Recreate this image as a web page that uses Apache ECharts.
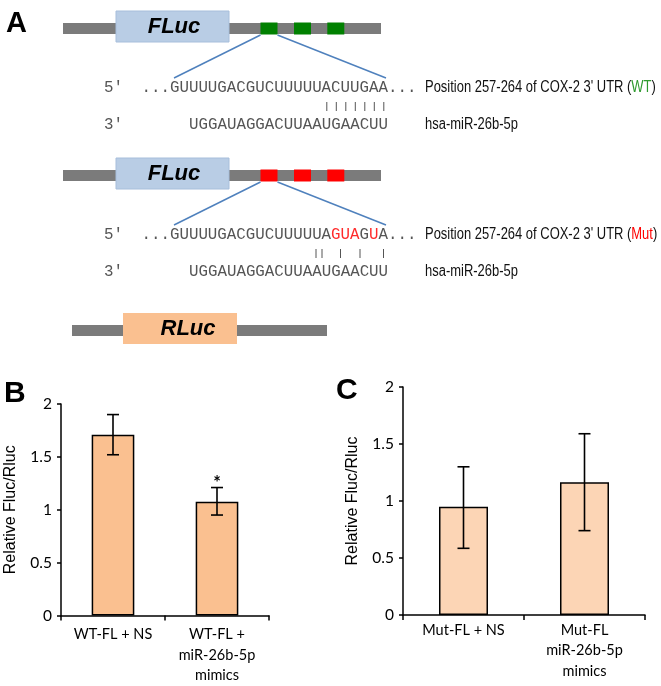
<!DOCTYPE html>
<html><head><meta charset="utf-8">
<script src="https://cdn.jsdelivr.net/npm/echarts@6/dist/echarts.min.js"></script>
<style>html,body{margin:0;padding:0;background:#fff}#c{width:661px;height:686px}</style>
</head><body><div id="c"></div>
<script>
// ---- data ----
const categoriesB = ['WT-FL + NS', 'WT-FL +\nmiR-26b-5p\nmimics'];
const valuesB = [1.71, 1.075];
const errLowB = [1.52, 0.95];
const errHighB = [1.90, 1.21];
const signifB = ['', '*'];
const categoriesC = ['Mut-FL + NS', 'Mut-FL\nmiR-26b-5p\nmimics'];
const valuesC = [0.95, 1.165];
const errLowC = [0.585, 0.74];
const errHighC = [1.30, 1.59];
const signifC = ['', ''];
const yMin = 0, yMax = 2, yStep = 0.5;
const yTitle = 'Relative Fluc/Rluc';

// ---- diagram text ----
const wtSeq5 = '...GUUUUGACGUCUUUUUACUUGAA...';
const mutSeq5Rich = '...GUUUUGACGUCUUUUUA{r|GUA}G{r|U}A...';
const mirSeq3 = 'UGGAUAGGACUUAAUGAACUU';
const wtLabel = 'Position 257-264 of COX-2 3\' UTR ({g|WT})';
const mutLabel = 'Position 257-264 of COX-2 3\' UTR ({r|Mut})';
const mirLabel = 'hsa-miR-26b-5p';

const chart = echarts.init(document.getElementById('c'), null, {renderer: 'canvas'});

const MONO = '"Liberation Mono", monospace';
const SANS = '"Liberation Sans", Arial, sans-serif';
const CAL = 'Lato, "Open Sans", sans-serif';
const seqColor = '#555555';
const grayBar = '#7b7b7b';
const blueLine = '#4f81bd';

function construct(dy, squareColor, seq5, label) {
  const els = [];
  els.push({type:'rect', shape:{x:63, y:23+dy, width:318, height:11}, style:{fill:grayBar}});
  els.push({type:'rect', shape:{x:116, y:11+dy, width:113, height:31}, style:{fill:'#b9cde5', stroke:'#a7bedb', lineWidth:1}});
  els.push({type:'text', x:174, y:27+dy, style:{text:'FLuc', font:'italic bold 22px ' + SANS, fill:'#000', textAlign:'center', textVerticalAlign:'middle'}});
  [260.5, 294, 327.3].forEach(x => {
    els.push({type:'rect', shape:{x:x, y:22.5+dy, width:17, height:12}, style:{fill:squareColor}});
  });
  els.push({type:'line', shape:{x1:260.5, y1:35+dy, x2:174, y2:78+dy}, style:{stroke:blueLine, lineWidth:1.5}});
  els.push({type:'line', shape:{x1:277.5, y1:35+dy, x2:386, y2:78+dy}, style:{stroke:blueLine, lineWidth:1.5}});
  // sequences
  els.push({type:'text', x:104, y:88+dy, style:{text:"5'", font:'15.8px ' + MONO, fill:seqColor, textVerticalAlign:'middle'}});
  els.push({type:'text', x:141.5, y:88+dy, style:{text:seq5, font:'15.8px ' + MONO, fill:seqColor, textVerticalAlign:'middle',
    rich:{r:{fill:'#ff2a2a', font:'15.8px ' + MONO}}}});
  els.push({type:'text', x:104, y:125+dy, style:{text:"3'", font:'15.8px ' + MONO, fill:seqColor, textVerticalAlign:'middle'}});
  els.push({type:'text', x:189, y:125+dy, style:{text:mirSeq3, font:'15.8px ' + MONO, fill:seqColor, textVerticalAlign:'middle'}});
  els.push({type:'text', x:425, y:88+dy, scaleX:0.81, style:{text:label, font:'16px ' + SANS, fill:'#111', textVerticalAlign:'middle',
    rich:{g:{fill:'#2e9a2e', font:'16px ' + SANS}, r:{fill:'#ff0000', font:'16px ' + SANS}}}});
  els.push({type:'text', x:425, y:125+dy, scaleX:0.81, style:{text:mirLabel, font:'16px ' + SANS, fill:'#111', textVerticalAlign:'middle'}});
  return els;
}

const graphics = [];
graphics.push({type:'text', x:6, y:24, style:{text:'A', font:'bold 29px ' + SANS, fill:'#000', textVerticalAlign:'middle'}});
graphics.push(...construct(0, '#008000', wtSeq5, wtLabel));
graphics.push(...construct(147, '#ff0000', mutSeq5Rich, mutLabel));
// base-pairing ticks
[326.8, 336.3, 345.8, 355.3, 364.8, 374.3, 383.8].forEach(x => {
  graphics.push({type:'line', shape:{x1:x, y1:102, x2:x, y2:111}, style:{stroke:seqColor, lineWidth:1}});
});
[316, 322, 340.5, 360, 383.5].forEach(x => {
  graphics.push({type:'line', shape:{x1:x, y1:249, x2:x, y2:258}, style:{stroke:seqColor, lineWidth:1}});
});
// RLuc construct
graphics.push({type:'rect', shape:{x:72, y:325, width:255, height:11}, style:{fill:grayBar}});
graphics.push({type:'rect', shape:{x:123, y:313, width:114, height:31}, style:{fill:'#fac090'}});
graphics.push({type:'text', x:188, y:328.5, style:{text:'RLuc', font:'italic bold 22px ' + SANS, fill:'#000', textAlign:'center', textVerticalAlign:'middle'}});
// panel letters
graphics.push({type:'text', x:4, y:394, style:{text:'B', font:'bold 30px ' + SANS, fill:'#000', textVerticalAlign:'middle'}});
graphics.push({type:'text', x:336, y:391, style:{text:'C', font:'bold 30px ' + SANS, fill:'#000', textVerticalAlign:'middle'}});

function errSeries(idx, low, high, marks) {
  return {
    type:'custom', xAxisIndex:idx, yAxisIndex:idx, clip:false, z:5,
    data: low.map((l, i) => [i, l, high[i]]),
    renderItem(params, api) {
      const x = api.value(0);
      const top = api.coord([x, api.value(2)]);
      const bot = api.coord([x, api.value(1)]);
      const hw = 6;
      const st = {stroke:'#000', lineWidth:1.6};
      const children = [
        {type:'line', shape:{x1:top[0], y1:top[1], x2:bot[0], y2:bot[1]}, style:st},
        {type:'line', shape:{x1:top[0]-hw, y1:top[1], x2:top[0]+hw, y2:top[1]}, style:st},
        {type:'line', shape:{x1:bot[0]-hw, y1:bot[1], x2:bot[0]+hw, y2:bot[1]}, style:st}
      ];
      const m = marks[params.dataIndex];
      if (m) children.push({type:'text', x:top[0], y:top[1]+5, style:{text:m, font:'bold 18px ' + CAL, fill:'#000', textAlign:'center', textVerticalAlign:'bottom'}});
      return {type:'group', children};
    }
  };
}

function yAxisCfg(idx, gap) {
  return {
    type:'value', gridIndex:idx, min:yMin, max:yMax, interval:yStep,
    name:yTitle, nameLocation:'middle', nameGap:gap, nameRotate:90,
    nameTextStyle:{fontFamily:SANS, fontSize:16, color:'#000'},
    axisLine:{show:true, lineStyle:{color:'#000', width:1.5}},
    axisTick:{show:true, length:4, lineStyle:{color:'#000', width:1.5}},
    axisLabel:{fontFamily:CAL, fontSize:15.5, color:'#000', margin:9},
    splitLine:{show:false}
  };
}
function xAxisCfg(idx, cats, margin) {
  return {
    type:'category', gridIndex:idx, data:cats,
    axisLine:{show:true, lineStyle:{color:'#000', width:1.5}},
    axisTick:{show:true, length:5, lineStyle:{color:'#000', width:1.5}},
    axisLabel:{interval:0, fontFamily:CAL, fontSize:14.5, color:'#000', lineHeight:20.5, margin:margin}
  };
}

chart.setOption({
  backgroundColor:'#fff',
  animation:false,
  graphic:{elements:graphics},
  grid:[
    {left:61, top:404, width:208, height:214},
    {left:403, top:387, width:242, height:228}
  ],
  xAxis:[xAxisCfg(0, categoriesB, 9), xAxisCfg(1, categoriesC, 5)],
  yAxis:[yAxisCfg(0, 42), yAxisCfg(1, 42)],
  series:[
    {type:'bar', xAxisIndex:0, yAxisIndex:0, data:valuesB, barWidth:'41%',
      itemStyle:{color:'#fac090', borderColor:'#000', borderWidth:1.5}},
    errSeries(0, errLowB, errHighB, signifB),
    {type:'bar', xAxisIndex:1, yAxisIndex:1, data:valuesC, barWidth:'40.5%',
      itemStyle:{color:'#fcd5b5', borderColor:'#000', borderWidth:1.5}},
    errSeries(1, errLowC, errHighC, signifC)
  ]
});
</script></body></html>
